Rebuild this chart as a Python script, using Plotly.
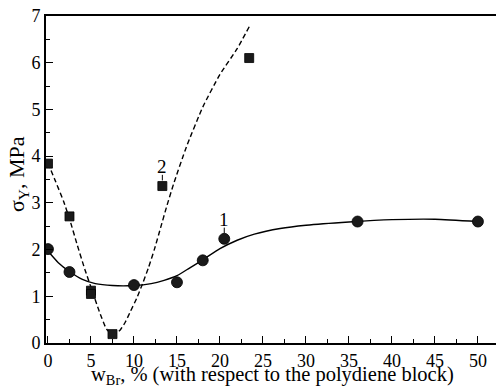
import plotly.graph_objects as go

# Measured points
w1 = [0, 2.5, 10, 15, 18, 20.5, 36, 50]
s1 = [2.01, 1.52, 1.24, 1.30, 1.77, 2.23, 2.60, 2.60]

w2 = [0, 2.5, 5, 5, 7.5, 13.3, 23.4]
s2 = [3.84, 2.71, 1.12, 1.05, 0.19, 3.36, 6.10]

# Fitted trend curves (knots, drawn as splines)
fit1_w = [0, 1.2, 2.5, 4, 5.5, 7.5, 10, 12, 13.5, 15, 16.5, 18, 20, 22, 24, 27, 30, 35, 40, 45, 50]
fit1_s = [1.97, 1.72, 1.53, 1.36, 1.27, 1.23, 1.23, 1.27, 1.34, 1.44, 1.61, 1.78, 2.02, 2.20,
          2.33, 2.45, 2.52, 2.59, 2.64, 2.65, 2.60]

fit2_w = [0, 0.9, 1.8, 2.6, 3.4, 4.3, 5.1, 5.9, 6.8, 7.6, 8.4, 9.0, 9.6, 10.3, 11.0, 11.7,
          12.4, 13.1, 13.8, 14.6, 16.1, 18.0, 20.0, 22.0, 23.4]
fit2_s = [3.85, 3.45, 3.04, 2.60, 2.10, 1.57, 1.14, 0.71, 0.30, 0.17, 0.28, 0.45, 0.68, 0.95,
          1.27, 1.62, 2.02, 2.47, 2.92, 3.40, 4.20, 5.05, 5.75, 6.30, 6.77]

# Curve numbers, placed above the point they refer to
curve_labels = ["1", "2"]
label_w = [20.5, 13.3]
label_s = [2.64, 3.77]
label_point_s = [2.23, 3.36]

FONT = "Liberation Serif"
INK = "#1a1a1a"

fig = go.Figure()

fig.add_trace(go.Scatter(x=fit1_w, y=fit1_s, mode="lines",
                         line=dict(color="black", width=1.4, shape="spline", smoothing=0.6),
                         hoverinfo="skip"))
fig.add_trace(go.Scatter(x=fit2_w, y=fit2_s, mode="lines",
                         line=dict(color="black", width=1.4, shape="spline", smoothing=0.5,
                                   dash="5px,3px"),
                         hoverinfo="skip"))
fig.add_trace(go.Scatter(x=w1, y=s1, mode="markers",
                         marker=dict(symbol="circle", size=11, color=INK,
                                     line=dict(color="black", width=0.8))))
fig.add_trace(go.Scatter(x=w2, y=s2, mode="markers",
                         marker=dict(symbol="square", size=9, color=INK,
                                     line=dict(color="black", width=0.8))))

for t, xx, yy, py in zip(curve_labels, label_w, label_s, label_point_s):
    fig.add_annotation(x=xx, y=yy, text=t, showarrow=False,
                       font=dict(family=FONT, size=19, color="black"))
    # short stem between the number and its point
    fig.add_shape(type="line", x0=xx, x1=xx, y0=py + 0.12, y1=yy - 0.17,
                  line=dict(color="black", width=1))

# Axis titles
fig.add_annotation(xref="paper", yref="paper", x=0.504, y=-0.100,
                   xanchor="center", yanchor="middle",
                   text="w<sub>Br</sub>, % (with respect to the polydiene block)",
                   showarrow=False, font=dict(family=FONT, size=20.5, color="black"))
fig.add_annotation(xref="paper", yref="paper", x=-0.062, y=0.517,
                   xanchor="center", yanchor="middle", textangle=-90,
                   text="σ<sub>Y</sub>, MPa",
                   showarrow=False, font=dict(family=FONT, size=22, color="black"))

axis_common = dict(
    showgrid=False, zeroline=False, showline=True, linecolor="black", linewidth=2,
    ticks="inside", ticklen=7, tickwidth=1, tickcolor="black",
    tickfont=dict(family=FONT, size=18, color="black"),
)

fig.update_xaxes(range=[-0.23, 52.1], tick0=0, dtick=5, mirror=True,
                 minor=dict(ticks="inside", ticklen=4, dtick=2.5, tick0=0, tickcolor="black"),
                 **axis_common)
fig.update_yaxes(range=[0, 7], tick0=0, dtick=1,
                 minor=dict(ticks="inside", ticklen=4, dtick=0.5, tick0=0, tickcolor="black"),
                 **axis_common)

fig.update_layout(
    width=496, height=388,
    margin=dict(l=46, r=0, t=16, b=45),
    paper_bgcolor="white", plot_bgcolor="white",
    font=dict(family=FONT, color="black"),
    showlegend=False,
)

fig.write_html("out.html")
